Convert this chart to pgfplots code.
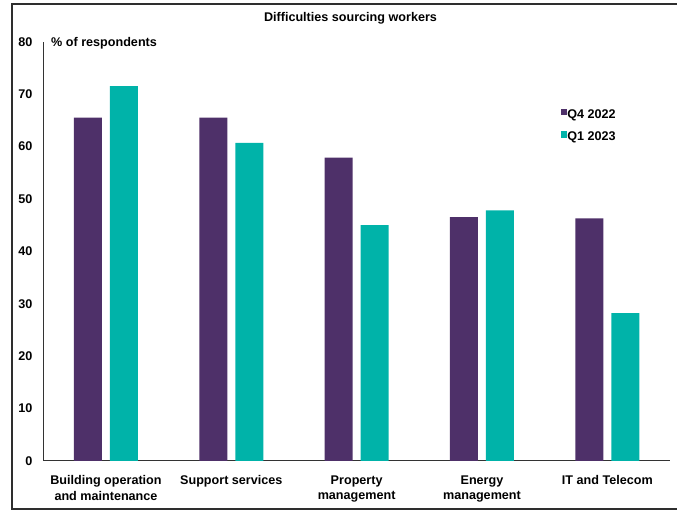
\documentclass[border=0pt]{standalone}
\usepackage{fontspec}
\setmainfont{Liberation Sans}
\usepackage{pgfplots}
\pgfplotsset{compat=1.18}

\definecolor{qpurple}{HTML}{4E3069}
\definecolor{qteal}{HTML}{00B3A9}

\newcommand{\chartfont}{\fontsize{12.6bp}{15.5bp}\selectfont\bfseries}

\begin{document}
\begin{tikzpicture}[x=1bp,y=1bp]
\begin{axis}[
  scale only axis,
  width=626.7bp, height=419.2bp,
  xmin=-0.5, xmax=4.5, ymin=0, ymax=80,
  axis x line=bottom, axis y line=left,
  axis line style={-, black!80, line width=0.8bp},
  ytick={0,10,...,80}, xtick={0,1,2,3,4},
  xticklabels={{Building operation\\and maintenance},{Support services},{Property\\management},{Energy\\management},{IT and Telecom}},
  major tick length=0pt,
  ybar=8bp, bar width=28bp,
  /pgf/number format/assume math mode=true,
  tick label style={font=\chartfont},
  xticklabel style={align=center, yshift=-11bp},
  yticklabel style={xshift=-7.4bp},
  legend style={draw=none, fill=none, inner sep=0pt, outer sep=0pt,
    at={(0.8256,0.8405)}, anchor=north west, font=\chartfont,
    nodes={inner sep=0pt}, row sep=11.5bp,
    /tikz/every even column/.append style={column sep=3.6bp}},
  legend cell align=left,
]
\addplot[fill=qpurple, draw=none,
  legend image code/.code={\fill[qpurple] (0,-0.8bp) rectangle (6.6bp,5.8bp);}]
  coordinates {(0,65.5) (1,65.5) (2,57.9) (3,46.5) (4,46.3)};
\addlegendentry{Q4 2022}
\addplot[fill=qteal, draw=none,
  legend image code/.code={\fill[qteal] (0,-0.8bp) rectangle (6.6bp,5.8bp);}]
  coordinates {(0,71.5) (1,60.7) (2,45.0) (3,47.8) (4,28.2)};
\addlegendentry{Q1 2023}
\coordinate (O) at (rel axis cs:0,0);
\end{axis}
\pgfresetboundingbox
% page coordinates measured from the lower-left corner of the page
\begin{scope}[shift={(O)}, shift={(-43.3,-50.1)}]
\useasboundingbox (0,0) rectangle (677,511);
% outer frame (its right side runs past the page edge)
\draw[line width=2bp, black!82] (12,2) rectangle (690,507.3);
% title
\node[anchor=base, font=\chartfont, inner sep=0pt] at (350.5,489.5) {Difficulties sourcing workers};
% unit label
\node[anchor=base west, font=\chartfont, inner sep=0pt] at (51,464.3) {\% of respondents};
\end{scope}
\end{tikzpicture}
\end{document}
